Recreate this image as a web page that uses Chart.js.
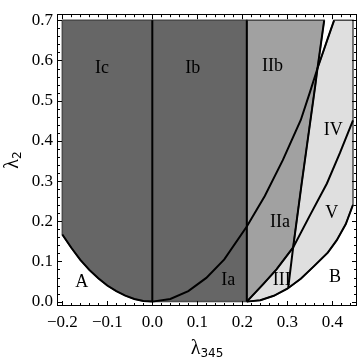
<!DOCTYPE html>
<html>
<head>
<meta charset="utf-8">
<script src="https://cdn.jsdelivr.net/npm/chart.js@4.4.0/dist/chart.umd.min.js"></script>
<style>
  html, body { margin: 0; padding: 0; background: #fff; }
  #wrap { width: 360px; height: 362px; }
</style>
</head>
<body>
<div id="wrap"><canvas id="grafica" width="360" height="362"></canvas></div>
<script>
// Marcas de los ejes
const xTicks = [-0.2, -0.1, 0.0, 0.1, 0.2, 0.3, 0.4];
const yTicks = [0.0, 0.1, 0.2, 0.3, 0.4, 0.5, 0.6, 0.7];

// Curvas de frontera (lambda345, lambda2)
const curvaA = [[-0.2, 0.167], [-0.18, 0.134], [-0.16, 0.104], [-0.14, 0.079], [-0.12, 0.058],
  [-0.10, 0.040], [-0.08, 0.026], [-0.06, 0.015], [-0.04, 0.0066], [-0.02, 0.0016], [0, 0]];
const curvaI = [[0, 0], [0.04, 0.0065], [0.08, 0.026], [0.12, 0.059], [0.16, 0.105], [0.21, 0.187],
  [0.25, 0.263], [0.29, 0.352], [0.33, 0.452], [0.35, 0.52], [0.367, 0.58], [0.39, 0.655], [0.404, 0.70]];
const curvaB = [[0.21, 0], [0.24, 0.0036], [0.27, 0.0145], [0.30, 0.032], [0.33, 0.057], [0.36, 0.089],
  [0.39, 0.122], [0.41, 0.153], [0.43, 0.193], [0.446, 0.241]];
const curvaV = [[0.21, 0], [0.247, 0.044], [0.276, 0.08], [0.313, 0.135], [0.35, 0.214], [0.388, 0.294],
  [0.417, 0.37], [0.446, 0.451]];
const rectaII = [[0.302, 0.034], [0.313, 0.135], [0.332, 0.294], [0.362, 0.536], [0.367, 0.58], [0.382, 0.70]];
const lineaCero = [[0, 0], [0, 0.7]];
const lineaUno = [[0.21, 0], [0.21, 0.7]];

// Cruces de curvas
const cruceBajo = [0.313, 0.135]; // curvaV con rectaII
const cruceAlto = [0.367, 0.58];  // curvaI con rectaII

// Etiquetas de las regiones
const etiquetas = ['Ic', 'Ib', 'IIb', 'IV', 'IIa', 'V', 'Ia', 'III', 'B', 'A'];
const etiquetasX = [-0.112, 0.09, 0.267, 0.402, 0.284, 0.399, 0.169, 0.2875, 0.406, -0.157];
const etiquetasY = [0.581, 0.581, 0.585, 0.427, 0.197, 0.221, 0.052, 0.052, 0.060, 0.048];

const aPuntos = arr => arr.map(p => ({ x: p[0], y: p[1] }));

// Regiones sombreadas
const regionOscura = [[-0.2, 0.7], ...curvaA, [0.21, 0], [0.21, 0.7], [-0.2, 0.7]];
const regionMedia = [
  ...curvaV.filter(p => p[0] <= cruceBajo[0]),
  ...rectaII.filter(p => p[1] > cruceBajo[1]),
  [0.21, 0.7], [0.21, 0]
];
const regionClara = [
  ...curvaB,
  [0.446, 0.7],
  ...curvaI.filter(p => p[1] > cruceAlto[1]).reverse(),
  ...rectaII.filter(p => p[1] <= cruceAlto[1] && p[1] >= cruceBajo[1]).reverse(),
  ...curvaV.filter(p => p[0] < cruceBajo[0]).reverse()
];

function linea(datos) {
  return {
    data: aPuntos(datos),
    showLine: true,
    borderColor: '#000',
    borderWidth: 2,
    pointRadius: 0,
    fill: false
  };
}

function region(datos, color) {
  return {
    data: aPuntos(datos),
    showLine: true,
    borderColor: '#4a4a4a',
    borderWidth: 1.5,
    backgroundColor: color,
    pointRadius: 0,
    fill: 'shape'
  };
}

function formato(v) {
  if (Math.abs(v) < 1e-9) return '0.0';
  return v < 0 ? '\u2212' + Math.abs(v).toFixed(1) : v.toFixed(1);
}

// Marco con marcas hacia dentro, etiquetas y titulos
const marcoPlugin = {
  id: 'marco',
  afterDatasetsDraw(chart) {
    const ctx = chart.ctx;
    const a = chart.chartArea;
    const sx = chart.scales.x;
    const sy = chart.scales.y;
    ctx.save();

    // etiquetas de regiones
    ctx.fillStyle = '#000';
    ctx.font = '18px "Liberation Serif"';
    ctx.textAlign = 'center';
    ctx.textBaseline = 'middle';
    etiquetas.forEach((t, i) => {
      ctx.fillText(t, sx.getPixelForValue(etiquetasX[i]), sy.getPixelForValue(etiquetasY[i]));
    });

    // marco
    ctx.strokeStyle = '#000';
    ctx.lineWidth = 1;
    ctx.strokeRect(Math.round(a.left) + 0.5, Math.round(a.top) + 0.5,
      Math.round(a.right - a.left) - 1, Math.round(a.bottom - a.top) - 1);

    // marcas
    ctx.beginPath();
    for (let i = -10; i <= 22; i++) {
      const px = Math.round(sx.getPixelForValue(i * 0.02)) + 0.5;
      if (px < a.left || px > a.right) continue;
      const len = i % 5 === 0 ? 5 : 3;
      ctx.moveTo(px, a.bottom); ctx.lineTo(px, a.bottom - len);
      ctx.moveTo(px, a.top); ctx.lineTo(px, a.top + len);
    }
    for (let i = 0; i <= 35; i++) {
      const py = Math.round(sy.getPixelForValue(i * 0.02)) + 0.5;
      const len = i % 5 === 0 ? 5 : 3;
      ctx.moveTo(a.left, py); ctx.lineTo(a.left + len, py);
      ctx.moveTo(a.right, py); ctx.lineTo(a.right - len, py);
    }
    ctx.stroke();

    // titulo eje x: lambda_345
    ctx.textAlign = 'left';
    ctx.textBaseline = 'alphabetic';
    ctx.font = '20px "Liberation Serif"';
    const wL = ctx.measureText('\u03bb').width;
    ctx.font = '12px "DejaVu Sans"';
    const wS = ctx.measureText('345').width;
    const cx = (a.left + a.right) / 2;
    let x0 = cx - (wL + wS) / 2;
    ctx.font = '20px "Liberation Serif"';
    ctx.fillText('\u03bb', x0, 354);
    ctx.font = '12px "DejaVu Sans"';
    ctx.fillText('345', x0 + wL, 357);

    // titulo eje y: lambda_2
    ctx.translate(18, (a.top + a.bottom) / 2);
    ctx.rotate(-Math.PI / 2);
    ctx.font = '20px "Liberation Serif"';
    const wL2 = ctx.measureText('\u03bb').width;
    ctx.font = '12px "DejaVu Sans"';
    const wS2 = ctx.measureText('2').width;
    x0 = -(wL2 + wS2) / 2;
    ctx.font = '20px "Liberation Serif"';
    ctx.fillText('\u03bb', x0, 0);
    ctx.font = '12px "DejaVu Sans"';
    ctx.fillText('2', x0 + wL2, 3);

    ctx.restore();
  }
};

new Chart(document.getElementById('grafica').getContext('2d'), {
  type: 'scatter',
  data: {
    datasets: [
      linea(curvaA),
      linea(lineaCero),
      linea(lineaUno),
      linea(curvaI),
      linea(rectaII),
      linea(curvaV),
      linea(curvaB),
      region(regionClara, '#dfdfdf'),
      region(regionMedia, '#a1a1a1'),
      region(regionOscura, '#666666')
    ]
  },
  options: {
    responsive: false,
    animation: false,
    events: [],
    layout: { padding: { top: 6, right: 3, left: 0, bottom: 0 } },
    plugins: { legend: { display: false }, tooltip: { enabled: false } },
    scales: {
      x: {
        type: 'linear',
        min: -0.2118,
        max: 0.4549,
        afterBuildTicks: axis => { axis.ticks = xTicks.map(v => ({ value: v })); },
        afterFit: axis => { axis.height = 56; },
        grid: { display: false, drawTicks: false },
        border: { display: false },
        ticks: {
          autoSkip: false,
          maxRotation: 0,
          padding: 6,
          color: '#000',
          font: { family: 'Liberation Serif', size: 17 },
          callback: v => formato(v)
        }
      },
      y: {
        type: 'linear',
        min: -0.0109,
        max: 0.7152,
        afterBuildTicks: axis => { axis.ticks = yTicks.map(v => ({ value: v })); },
        afterFit: axis => { axis.width = 57; },
        grid: { display: false, drawTicks: false },
        border: { display: false },
        ticks: {
          autoSkip: false,
          padding: 4,
          color: '#000',
          font: { family: 'Liberation Serif', size: 17 },
          callback: v => formato(v)
        }
      }
    }
  },
  plugins: [marcoPlugin]
});
</script>
</body>
</html>
